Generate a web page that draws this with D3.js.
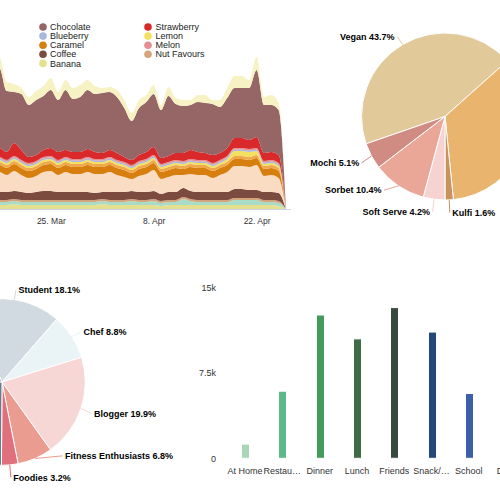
<!DOCTYPE html>
<html><head><meta charset="utf-8">
<script src="https://cdn.jsdelivr.net/npm/d3@7"></script>
<style>html,body{margin:0;padding:0;background:#fff;overflow:hidden}svg{display:block;font-family:"Liberation Sans",Arial,sans-serif}</style>
</head><body><svg id="c" width="500" height="500"></svg>
<script>
// ---------- Stream chart data (daily servings, stacked bottom → top) ----------
const streamStart = "2024-03-17", streamEnd = "2024-04-26";
const streamTicks = ["2024-03-25", "2024-04-08", "2024-04-22"];
const flavours = ["Banana","Mint","Nut Favours","Coffee","Peach","Caramel","Orange","Lemon","Blueberry","Melon","Strawberry","Chocolate","Vanilla"];
const flavourColors = ["#e4e08e","#a9dcc6","#d4a47a","#7a4b3e","#fadcc3","#d77f0e","#f0a94a","#f3df60","#a8b8da","#e58f93","#d9292b","#966565","#f6f2c4"];
const legendOrder = ["Chocolate","Strawberry","Blueberry","Lemon","Caramel","Melon","Coffee","Nut Favours","Banana"];
const banana     = [4,4,4,5,4,4,4,4,4,4,4,4,4,4,4,5,4,4,4,4,4,4,4,3,4,4,4,4,4,4,4,4,4,4,4,4,4,4,4,3,0];
const mint       = [3,3,3,3,3,3,3,3,3,3,3,3,3,3,3,3,3,3,3,4,3,3,4,3,3,3,6,4,3,3,3,3,3,5,5,5,5,3,3,3,0];
const nut        = [2,2,2,2,2,2,2,2,2,2,2,2,2,2,2,2,2,2,2,2,2,2,2,2,2,2,2,2,2,2,2,2,2,2,2,2,2,2,2,2,0];
const coffee     = [8,8,8,8,8,7,8,9,9,8,8,8,8,8,7,7,8,8,8,8,8,8,8,7,8,8,9,8,8,8,8,8,8,9,9,8,8,8,8,8,0];
const peach      = [17,20,17,20,17,15,16,19,20,17,20,18,18,20,19,18,20,17,15,12,16,18,21,15,15,17,13,17,17,17,14,17,20,23,23,23,25,16,17,15,0];
const caramel    = [7,7,7,7,7,7,7,7,7,7,7,7,7,7,7,7,7,7,7,6,7,7,7,7,7,7,6,7,7,7,7,7,7,7,7,7,7,7,7,7,0];
const orange     = [3,3,3,3,3,3,3,3,3,3,3,3,3,3,3,3,3,3,3,3,3,3,3,3,3,3,3,3,3,3,3,3,3,3,3,3,3,3,3,3,0];
const lemon      = [2,2,2,2,2,2,2,2,2,2,2,2,2,2,2,2,2,2,2,2,2,2,2,2,2,2,2,2,2,2,2,2,3,5,5,5,4,2,2,2,0];
const blueberry  = [1.5,1.5,1.5,1.5,1.5,1.5,1.5,1.5,1.5,1.5,1.5,1.5,1.5,1.5,1.5,1.5,1.5,1.5,1.5,1.5,1.5,1.5,1.5,1.5,1.5,1.5,1.5,1.5,1.5,1.5,1.5,1.5,1.5,1.5,1.5,1.5,1.5,1.5,1.5,1.5,0];
const melon      = [1.5,1.5,1.5,1.5,1.5,1.5,1.5,1.5,1.5,1.5,1.5,1.5,1.5,1.5,1.5,1.5,1.5,1.5,1.5,1.5,1.5,1.5,1.5,1.5,1.5,1.5,1.5,1.5,1.5,1.5,1.5,1.5,1.5,1.5,1.5,1.5,1.5,1.5,1.5,1.5,0];
const strawberry = [8,9,8,13,10,6,6,7,8,8,7,7,7,8,7,6,7,7,5,5,6,7,8,6,6,7,8,9,8,7,8,7,8,10,10,9,11,8,8,8,0];
const chocolate  = [52,80,61,51,56,52,55,54,58,52,60,53,55,59,58,60,58,56,49,39,47,50,53,48,60,49,47,45,50,50,51,46,50,50,50,52,67,48,47,45,0];
const vanilla    = [8,11,9,8,6,8,9,10,12,8,10,11,12,10,8,5,5,7,8,8,8,7,9,5,9,6,6,5,7,8,4,7,10,12,12,8,13,8,10,7,0];
const flavourSeries = [banana,mint,nut,coffee,peach,caramel,orange,lemon,blueberry,melon,strawberry,chocolate,vanilla];

// ---------- Pie 1: types ----------
const typeNames  = ["Vegan","Gelato","Kulfi","Soft Serve","Sorbet","Mochi"];
const typeValues = [43.7, 35.0, 1.6, 4.2, 10.4, 5.1];
const typeColors = ["#e1c99a","#e9b46e","#c8925d","#f6d3d0","#eaa797","#d08c82"];

// ---------- Pie 2: audience ----------
const audNames  = ["Student","Chef","Blogger","Fitness Enthusiasts","Foodies","Families","Kids"];
const audValues = [18.1, 8.8, 19.9, 6.8, 3.2, 25.4, 17.8];
const audColors = ["#d1d9e1","#eaf3f6","#f7d7d5","#eb9c90","#e0707b","#6b7a8c","#a3b0bf"];

// ---------- Bars: occasions ----------
const occasions = ["At Home","Restaurant","Dinner","Lunch","Friends","Snack/Dessert","School","Date"];
const occValues = [1250, 5900, 12600, 10500, 13250, 11100, 5700, 8200];
const occColors = ["#a9d6b9","#5cb98a","#44995b","#3f6b46","#364b3d","#23497b","#3d5ea9","#5b7fc2"];
const occTicks  = [0, 7500, 15000];

const svg = d3.select("#c");

// ===== Stream chart =====
(function(){
  const parse = d3.utcParse("%Y-%m-%d");
  const days = d3.utcDay.range(parse(streamStart), d3.utcDay.offset(parse(streamEnd), 1));
  const x = d3.scaleUtc().domain([days[0], days[days.length-1]]).range([-8, 286]);
  const y = d3.scaleLinear().domain([0, 150]).range([209, 59]);
  const rows = days.map((d, i) => {
    const r = {date: d};
    flavours.forEach((f, k) => r[f] = flavourSeries[k][i]);
    return r;
  });
  const stack = d3.stack().keys(flavours)(rows);
  const area = d3.area().x(d => x(d.data.date)).y0(d => y(d[0])).y1(d => y(d[1])).curve(d3.curveMonotoneX);
  const g = svg.append("g");
  g.selectAll("path").data(stack).join("path")
    .attr("d", area).attr("fill", (d, i) => flavourColors[i]);
  const ax = svg.append("g").attr("transform", "translate(0,209.5)")
    .call(d3.axisBottom(x).tickValues(streamTicks.map(parse)).tickFormat(d3.utcFormat("%-d. %b")).tickSize(0).tickPadding(8.5));
  ax.select(".domain").remove();
  ax.append("line").attr("x1", x.range()[0]).attr("x2", x.range()[1] + 5).attr("stroke", "#ccd6eb");
  ax.selectAll("text").attr("font-size", 8.5).attr("fill", "#333").attr("font-family", "Liberation Sans, Arial, sans-serif");
  const lg = svg.append("g");
  legendOrder.forEach((name, i) => {
    const col = i % 2, row = Math.floor(i / 2);
    const c = flavourColors[flavours.indexOf(name)];
    lg.append("circle").attr("cx", 43 + col * 105).attr("cy", 27 + row * 9.1).attr("r", 3.8).attr("fill", c);
    lg.append("text").attr("x", 50 + col * 105.5).attr("y", 27 + row * 9.1).attr("dy", "0.35em")
      .attr("font-size", 9).attr("fill", "#222").text(name);
  });
})();

// ===== Pies =====
function drawPie(names, values, colors, cx, cy, r, startDeg) {
  const s = startDeg * Math.PI / 180;
  const pie = d3.pie().sort(null).value(d => d.v).startAngle(s).endAngle(s + 2 * Math.PI);
  const arcs = pie(names.map((n, i) => ({n, v: values[i], c: colors[i]})));
  const arc = d3.arc().innerRadius(0).outerRadius(r);
  const g = svg.append("g");
  g.selectAll("path").data(arcs).join("path")
    .attr("transform", `translate(${cx},${cy})`)
    .attr("d", arc).attr("fill", d => d.data.c).attr("stroke", "#fff").attr("stroke-width", 1).attr("stroke-linejoin", "round");
  const R = r + 11, gap = 21.5;
  const labels = arcs.map(a => {
    const m = (a.startAngle + a.endAngle) / 2;
    return {a, right: Math.sin(m) >= 0, y: cy - Math.cos(m) * R, ex: cx + Math.sin(m) * r, ey: cy - Math.cos(m) * r};
  });
  [true, false].forEach(side => {
    const L = labels.filter(l => l.right === side).sort((p, q) => p.y - q.y);
    for (let i = L.length - 2; i >= 0; i--) if (L[i].y > L[i + 1].y - gap) L[i].y = L[i + 1].y - gap;
  });
  labels.forEach(l => {
    const dy = l.y - cy;
    const dx = Math.sqrt(Math.max(0, R * R - dy * dy));
    l.x = cx + (l.right ? dx : -dx);
    const t = g.append("text").attr("x", l.x + (l.right ? 2.5 : -2.5)).attr("y", l.y + 1.5).attr("dy", "0.35em")
      .attr("text-anchor", l.right ? "start" : "end")
      .attr("font-size", 9).attr("font-weight", "bold").attr("fill", "#000")
      .text(`${l.a.data.n} ${d3.format(".1f")(l.a.data.v)}%`);
    const bb = t.node().getBBox();
    if (bb.x + bb.width <= 0 || bb.x >= 500) { t.remove(); return; }  // label lies outside the view
    g.insert("path", "text").attr("d", `M${l.ex},${l.ey}L${l.x},${l.y + 1.5}`)
      .attr("fill", "none").attr("stroke", l.a.data.c).attr("stroke-width", 1);
  });
}
drawPie(typeNames, typeValues, typeColors, 445, 116.5, 83.5, -109.1);
drawPie(audNames, audValues, audColors, 2, 382, 83.3, -24.1);

// ===== Bar chart =====
(function(){
  const bw = 37.3;
  const x = d3.scaleBand().domain(occasions).range([226.4, 226.4 + bw * occasions.length]).padding(0);
  const y = d3.scaleLinear().domain([0, 15000]).range([458.3, 287.7]);
  const g = svg.append("g");
  g.selectAll("rect").data(occasions).join("rect")
    .attr("x", d => Math.round(x(d) + x.bandwidth() / 2 - 4) + 0.5)
    .attr("width", 8)
    .attr("y", (d, i) => y(occValues[i]))
    .attr("height", (d, i) => y(0) - y(occValues[i]))
    .attr("fill", (d, i) => occColors[i]).attr("stroke", "#fff").attr("stroke-width", 1);
  const ya = svg.append("g").attr("transform", "translate(216,0)")
    .call(d3.axisLeft(y).tickValues(occTicks).tickSize(0).tickPadding(0)
      .tickFormat(v => v === 0 ? "0" : d3.format("~g")(v / 1000) + "k"));
  ya.select(".domain").remove();
  ya.selectAll("text").attr("font-size", 9).attr("fill", "#333").attr("font-family", "Liberation Sans, Arial, sans-serif");
  const xa = svg.append("g").attr("transform", "translate(0,458.3)")
    .call(d3.axisBottom(x).tickSize(0).tickPadding(9));
  xa.select(".domain").remove();
  xa.selectAll("text").attr("font-size", 9).attr("fill", "#333").attr("font-family", "Liberation Sans, Arial, sans-serif")
    .each(function(d){
      const t = d3.select(this);
      if (this.getComputedTextLength() > bw + 1) {
        let s = d;
        while (s.length > 1) { s = s.slice(0, -1); t.text(s + "…"); if (this.getComputedTextLength() <= bw + 1) break; }
      }
    });
})();
</script></body></html>
